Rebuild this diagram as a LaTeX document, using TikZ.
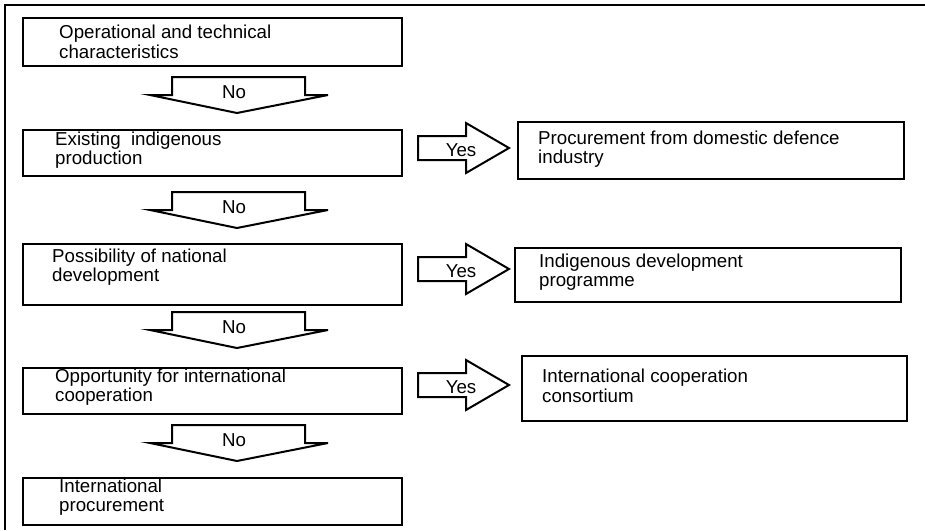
\documentclass[tikz,border=0pt]{standalone}
\usepackage{fontspec}
\setmainfont{Liberation Sans}
\usetikzlibrary{calc}
\tikzset{
  box/.style={draw, line width=2.1pt, inner sep=0pt, anchor=north west},
  txt/.style={anchor=west, align=left, inner sep=0pt, font=\fontsize{18.7}{19.5}\selectfont},
  blk/.style={draw, line width=2pt, line join=miter, fill=white},
  lbl/.style={inner sep=0pt, font=\fontsize{18.7}{19.5}\selectfont},
}
\begin{document}
\begin{tikzpicture}[x=1pt,y=-1pt]
\useasboundingbox (0,0) rectangle (925,530);
\draw[line width=2.5pt] (925,5) -| (5,530);

% left column boxes
\node[box, minimum width=379pt, minimum height=48pt] (b1) at (22,17) {};
\node[txt] (t1) at (59,42) {Operational and technical\\characteristics};
\node[box, minimum width=379pt, minimum height=46pt] (b2) at (22,129) {};
\node[txt] (t2) at (55,150) {Existing~ indigenous\\production};
\node[box, minimum width=379pt, minimum height=61pt] (b3) at (22,243) {};
\node[txt] (t3) at (52,267) {Possibility of national\\development};
\node[box, minimum width=379pt, minimum height=46pt] (b4) at (22,367) {};
\node[txt] (t4) at (55,387) {Opportunity for international\\cooperation};
\node[box, minimum width=379pt, minimum height=47pt] (b5) at (22,477) {};
\node[txt] (t5) at (59,497) {International\\procurement};

% right column boxes
\node[box, minimum width=386pt, minimum height=57pt] (r1) at (517,121) {};
\node[txt] (s1) at (538,149) {Procurement from domestic defence\\industry};
\node[box, minimum width=386pt, minimum height=54pt] (r2) at (514,247) {};
\node[txt] (s2) at (539,272) {Indigenous development\\programme};
\node[box, minimum width=385pt, minimum height=65pt] (r3) at (521,355) {};
\node[txt] (s3) at (542,386) {International cooperation\\consortium};

% "No" block arrows
\foreach \n/\y in {1/77, 2/192, 3/312, 4/425}{
  \draw[blk] (172,\y) -- (305,\y) -- (305,\y+18) -- (328,\y+18) -- (237,\y+36)
    -- (150,\y+18) -- (172,\y+18) -- cycle;
  \node[lbl] (no\n) at (234,\y+15) {No};
}

% "Yes" block arrows
\foreach \n/\y in {1/148, 2/269, 3/385}{
  \draw[blk] (418,\y-12) -- (466,\y-12) -- (466,\y-25) -- (509,\y)
    -- (466,\y+25) -- (466,\y+12) -- (418,\y+12) -- cycle;
  \node[lbl] (yes\n) at (461,\y+2) {Yes};
}
\end{tikzpicture}
\end{document}
